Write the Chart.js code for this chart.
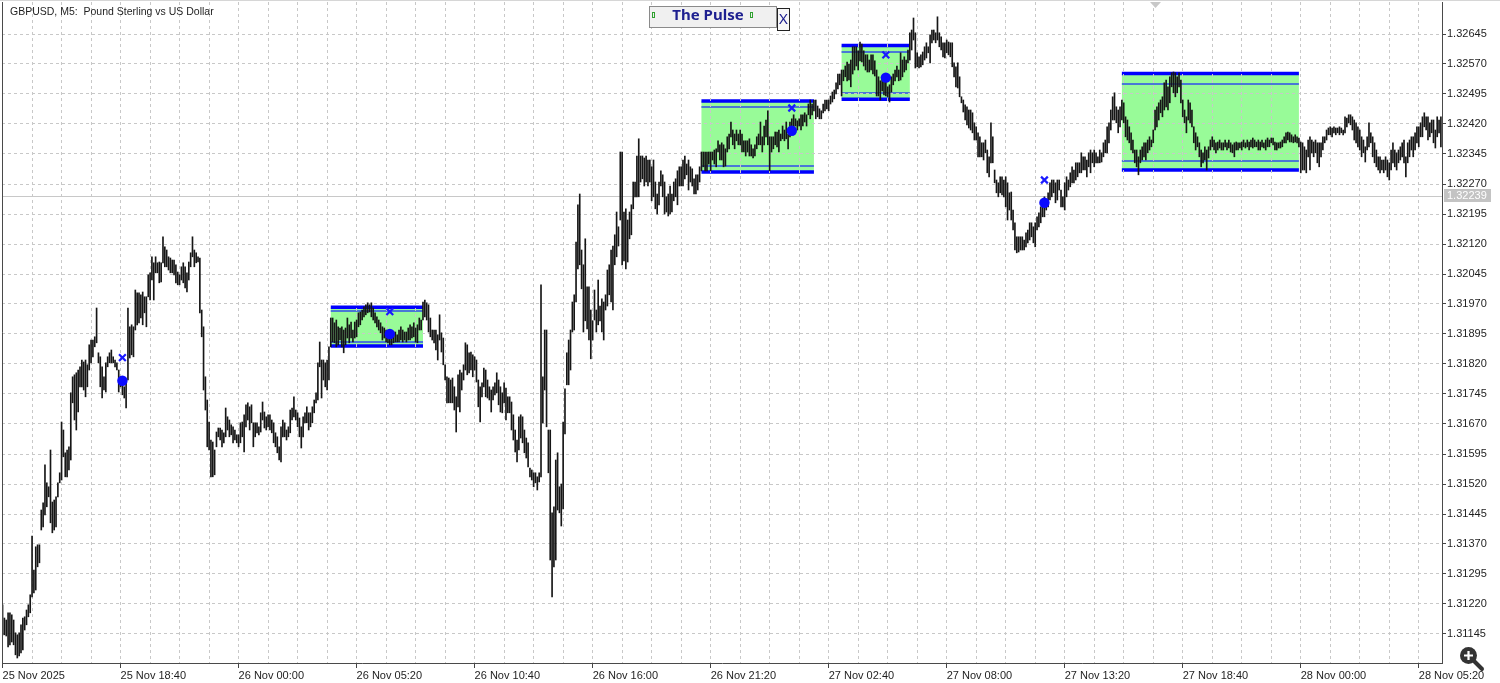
<!DOCTYPE html>
<html>
<head>
<meta charset="utf-8">
<script src="https://cdn.jsdelivr.net/npm/chart.js@4.4.1/dist/chart.umd.min.js"></script>
<style>
html,body{margin:0;padding:0;background:#fff;overflow:hidden}
#wrap{position:relative;width:1500px;height:683px}
</style>
</head>
<body>
<div id="wrap"><canvas id="c" width="1500" height="683"></canvas></div>
<script>
// ---------- DATA ----------
// GBPUSD M5 bars. Prices stored in points (0.00001) above 1.31000
const PRICE_BASE = 1.31;
const POINT = 0.00001;

const barHighPts = [
218,185,180,198,198,193,180,148,143,148,
168,185,188,205,218,243,390,305,363,368,
368,455,473,568,523,513,605,475,480,488,
523,548,675,655,598,605,613,748,788,793,
798,805,813,830,825,830,818,868,880,880,
888,960,848,838,813,788,823,838,848,855,
838,830,823,805,788,780,763,773,960,913,
918,913,1005,998,998,993,1000,988,988,1043,
1048,1088,1073,1088,1073,1075,1073,1138,1113,1105,
1088,1085,1080,1080,1068,1050,1043,1063,1073,1063,
1048,1075,1098,1138,1105,1098,1088,1085,955,913,
788,730,675,630,625,605,650,660,660,655,
648,710,688,680,668,663,655,643,643,673,
675,693,718,723,713,718,673,673,673,663,
698,725,700,688,693,693,680,673,648,638,
613,663,680,673,655,663,705,710,738,705,
698,685,663,688,698,713,698,698,713,730,
748,823,875,830,830,823,830,863,935,935,
923,930,913,910,913,905,910,935,918,925,
905,925,930,948,950,955,963,968,973,968,
973,960,948,938,930,923,913,910,905,898,
898,888,900,900,893,905,913,905,900,900,
910,918,913,923,910,918,935,930,975,980,
973,968,935,905,905,905,893,943,898,885,
818,788,785,780,785,763,738,793,805,798,
818,873,868,848,850,843,838,830,780,763,
773,810,805,780,763,755,763,773,798,780,
763,748,773,760,738,738,725,693,655,630,
688,693,688,655,635,623,560,555,548,548,
538,548,1018,788,905,905,655,655,448,463,
580,598,513,520,675,758,848,880,905,975,
993,1125,1218,1245,1105,1068,1133,1013,1013,955,
928,1005,955,1030,965,983,975,993,1055,1068,
1105,1115,1143,1200,1163,1350,1350,1200,1208,1180,
1200,1218,1275,1275,1340,1383,1340,1340,1335,1340,
1330,1330,1313,1330,1275,1245,1275,1303,1293,1275,
1238,1245,1265,1245,1275,1283,1303,1313,1313,1330,
1340,1320,1330,1313,1308,1283,1293,1293,1313,1350,
1350,1350,1350,1350,1350,1350,1355,1358,1378,1368,
1373,1368,1358,1388,1395,1425,1405,1395,1405,1395,
1405,1395,1378,1378,1378,1383,1368,1358,1368,1388,
1395,1425,1388,1415,1430,1453,1388,1388,1388,1400,
1400,1405,1395,1415,1405,1425,1395,1425,1433,1443,
1433,1428,1433,1443,1443,1448,1443,1470,1480,1470,
1480,1480,1465,1458,1453,1470,1480,1480,1480,1490,
1500,1505,1523,1545,1545,1555,1555,1565,1575,1570,
1580,1613,1613,1613,1603,1625,1620,1603,1593,1593,
1580,1593,1593,1578,1555,1538,1528,1538,1530,1528,
1513,1518,1538,1545,1555,1565,1555,1598,1580,1588,
1580,1605,1648,1655,1685,1648,1598,1588,1593,1600,
1613,1623,1613,1643,1655,1655,1648,1688,1648,1638,
1623,1623,1630,1625,1623,1623,1573,1563,1573,1538,
1488,1480,1468,1463,1455,1455,1448,1423,1413,1398,
1388,1373,1373,1380,1355,1338,1423,1388,1305,1280,
1273,1288,1288,1280,1288,1273,1248,1250,1205,1173,
1138,1138,1138,1138,1130,1148,1155,1173,1173,1163,
1173,1188,1198,1213,1223,1238,1223,1248,1273,1280,
1280,1273,1280,1280,1255,1238,1273,1288,1280,1298,
1313,1305,1323,1323,1323,1348,1338,1338,1330,1348,
1355,1348,1355,1348,1338,1355,1348,1373,1380,1413,
1423,1455,1488,1498,1463,1455,1463,1480,1473,1438,
1430,1413,1398,1380,1355,1355,1338,1355,1363,1373,
1373,1380,1388,1380,1405,1455,1463,1473,1480,1488,
1523,1530,1513,1538,1548,1550,1548,1538,1548,1530,
1480,1455,1438,1480,1473,1455,1413,1398,1388,1373,
1355,1348,1363,1355,1363,1380,1388,1380,1373,1375,
1380,1373,1373,1380,1373,1380,1373,1368,1373,1375,
1373,1373,1375,1380,1373,1380,1375,1380,1385,1380,
1375,1380,1375,1380,1373,1380,1385,1380,1385,1385,
1375,1373,1373,1375,1380,1388,1398,1400,1398,1393,
1388,1393,1388,1385,1375,1373,1363,1355,1380,1388,
1380,1375,1380,1373,1373,1373,1388,1388,1405,1410,
1413,1410,1413,1410,1410,1413,1410,1405,1438,1435,
1443,1443,1438,1430,1423,1413,1405,1388,1380,1363,
1388,1423,1398,1388,1373,1355,1338,1338,1330,1330,
1338,1330,1323,1355,1373,1355,1348,1355,1363,1373,
1380,1338,1373,1380,1388,1388,1398,1413,1413,1423,
1438,1448,1438,1438,1423,1430,1430,1405,1438,1430,
1438
];

const barLowPts = [
143,143,140,113,118,125,118,93,85,90,
98,105,155,168,188,198,238,248,255,313,
323,405,413,443,463,488,423,398,405,413,
488,523,530,588,538,538,555,580,723,680,
655,700,763,763,755,738,763,805,823,838,
863,873,823,763,735,755,750,813,823,823,
823,813,805,750,763,743,735,710,780,835,
843,838,905,918,923,935,918,948,913,988,
980,1030,980,1048,1048,1023,1025,1073,1063,1063,
1055,1048,1048,1043,1023,1018,1018,1030,1023,1010,
1000,1030,1063,1088,1063,1073,1075,948,888,755,
705,613,605,538,538,543,613,638,630,613,
623,638,655,638,643,623,630,623,613,623,
638,600,663,680,655,673,613,638,648,643,
650,680,660,655,663,655,648,623,613,598,
580,575,638,638,630,638,648,680,688,680,
663,638,610,638,673,673,655,663,673,698,
723,730,813,735,780,763,755,780,863,875,
873,863,868,880,863,848,868,885,873,885,
875,885,888,913,918,930,938,943,948,950,
938,930,923,913,905,898,880,885,875,873,
868,868,873,875,875,875,880,875,880,875,
880,880,885,888,875,873,905,905,930,938,
930,900,888,880,873,855,830,880,850,818,
780,723,723,723,723,705,650,713,700,755,
780,805,793,798,805,788,805,775,713,675,
738,763,738,735,730,700,730,743,748,718,
700,698,723,680,698,698,655,630,600,575,
605,635,623,598,585,563,538,530,513,523,
505,525,538,673,755,663,548,330,238,313,
330,455,448,415,458,645,768,768,805,900,
905,975,1058,1068,1008,900,928,908,880,833,
880,930,900,918,928,900,880,955,965,993,
975,955,1068,1088,1115,1180,1068,1078,1058,1075,
1133,1143,1208,1238,1238,1238,1275,1283,1265,1275,
1265,1275,1228,1238,1208,1195,1218,1265,1238,1195,
1200,1190,1195,1200,1228,1238,1218,1265,1265,1265,
1283,1293,1255,1275,1265,1245,1245,1255,1275,1303,
1313,1303,1303,1320,1303,1330,1320,1313,1350,1330,
1330,1313,1315,1350,1358,1388,1368,1358,1378,1368,
1368,1350,1350,1340,1350,1340,1340,1335,1340,1358,
1368,1368,1350,1368,1388,1368,1303,1350,1358,1368,
1363,1350,1378,1383,1378,1383,1358,1388,1395,1405,
1415,1405,1415,1405,1415,1425,1415,1443,1433,1443,
1453,1433,1438,1433,1433,1448,1453,1458,1453,1470,
1475,1483,1495,1508,1518,1490,1528,1538,1528,1530,
1513,1545,1555,1565,1555,1578,1575,1565,1555,1550,
1550,1555,1545,1540,1490,1490,1480,1503,1493,1490,
1488,1475,1500,1518,1528,1538,1528,1530,1538,1550,
1555,1573,1580,1605,1630,1560,1563,1560,1563,1568,
1580,1585,1598,1573,1623,1630,1623,1630,1613,1605,
1588,1585,1598,1593,1588,1563,1538,1513,1510,1488,
1473,1450,1430,1418,1410,1405,1398,1380,1380,1338,
1338,1338,1330,1348,1298,1288,1323,1323,1273,1248,
1238,1248,1243,1238,1213,1180,1205,1180,1155,1105,
1098,1100,1105,1105,1105,1113,1123,1130,1138,1123,
1113,1155,1163,1173,1188,1188,1205,1213,1230,1238,
1248,1223,1230,1255,1213,1213,1205,1238,1255,1263,
1273,1273,1280,1288,1298,1298,1305,1305,1288,1313,
1298,1323,1313,1323,1323,1323,1325,1338,1348,1348,
1373,1405,1430,1430,1423,1398,1413,1430,1423,1388,
1380,1373,1355,1348,1323,1313,1293,1323,1330,1338,
1330,1348,1355,1363,1373,1405,1413,1430,1448,1438,
1455,1463,1455,1473,1513,1498,1488,1498,1513,1473,
1438,1423,1398,1430,1423,1413,1373,1355,1363,1338,
1313,1323,1330,1305,1335,1355,1363,1355,1348,1355,
1360,1355,1355,1363,1355,1360,1350,1348,1338,1355,
1355,1360,1355,1363,1360,1363,1355,1363,1360,1363,
1363,1355,1355,1363,1360,1355,1363,1363,1373,1368,
1355,1355,1360,1360,1363,1373,1373,1380,1375,1375,
1373,1375,1373,1363,1298,1305,1305,1298,1338,1305,
1348,1338,1348,1323,1313,1338,1355,1373,1380,1393,
1393,1388,1398,1393,1398,1393,1398,1393,1398,1413,
1423,1418,1405,1380,1373,1363,1355,1338,1348,1325,
1355,1363,1373,1338,1323,1313,1305,1298,1305,1298,
1305,1288,1280,1305,1323,1313,1305,1323,1330,1338,
1323,1288,1323,1338,1355,1338,1355,1373,1363,1388,
1388,1413,1405,1380,1388,1398,1373,1360,1388,1398,
1363
];

// Time axis labels (one every 64 bars)
const timeLabels = ['25 Nov 2025','25 Nov 18:40','26 Nov 00:00','26 Nov 05:20','26 Nov 10:40','26 Nov 16:00',
  '26 Nov 21:20','27 Nov 02:40','27 Nov 08:00','27 Nov 13:20','27 Nov 18:40','28 Nov 00:00','28 Nov 05:20'];
const BARS_PER_LABEL = 64;
const BARS_PER_GRID = 16;

// Price axis tick labels
const priceTickLabels = ['1.31145','1.31220','1.31295','1.31370','1.31445','1.31520','1.31595','1.31670',
  '1.31745','1.31820','1.31895','1.31970','1.32045','1.32120','1.32195','1.32270','1.32345','1.32420',
  '1.32495','1.32570','1.32645'];
const PRICE_MIN = 1.310725, PRICE_MAX = 1.32725;
const currentPrice = 1.32239;

// Signal markers (bar index + price)
const dotBars = [65, 210, 428, 479, 565];
const dotPrices = [1.31778, 1.31895, 1.32403, 1.32536, 1.32223];
const crossBars = [65, 210, 428, 479, 565];
const crossPrices = [1.31836, 1.31951, 1.32460, 1.32593, 1.32280];

// Range boxes
const boxStartBar = [178, 379, 455, 607];
const boxEndBar = [228, 440, 492, 703];
const boxTop = [1.31962, 1.324775, 1.32616, 1.32546];
const boxInnerTop = [1.31953, 1.324625, 1.32601, 1.32520];
const boxInnerBottom = [1.31876, 1.32315, 1.32497, 1.32328];
const boxBottom = [1.31865, 1.32300, 1.32482, 1.32305];

// ---------- BUILD ----------
const toPrice = p => PRICE_BASE + p * POINT;
const barData = barHighPts.map((h, i) => ({ x: i, y: [toPrice(barLowPts[i]), toPrice(h)] }));
const dotData = dotBars.map((b, k) => ({ x: b, y: dotPrices[k] }));
const crossData = crossBars.map((b, k) => ({ x: b, y: crossPrices[k] }));
const gridTicks = [];
for (let v = 0; v <= (timeLabels.length - 1) * BARS_PER_LABEL; v += BARS_PER_GRID) gridTicks.push(v);
const GRIDS_PER_LABEL = BARS_PER_LABEL / BARS_PER_GRID;

const FONT = 'Liberation Sans';

const backPlugin = {
  id: 'back',
  beforeDraw(chart) {
    const { ctx, chartArea: a, scales: { x, y } } = chart;
    ctx.save();
    ctx.fillStyle = '#ffffff';
    ctx.fillRect(0, 0, chart.width, chart.height);
    ctx.beginPath();
    ctx.rect(a.left, a.top, a.right - a.left, a.bottom - a.top);
    ctx.clip();
    for (let k = 0; k < boxStartBar.length; k++) {
      const x1 = x.getPixelForValue(boxStartBar[k]);
      const x2 = x.getPixelForValue(boxEndBar[k]);
      const yT = y.getPixelForValue(boxTop[k]);
      const yB = y.getPixelForValue(boxBottom[k]);
      ctx.fillStyle = '#98fb98';
      ctx.fillRect(x1, yT, x2 - x1, yB - yT);
      ctx.strokeStyle = '#4a78d6';
      ctx.lineWidth = 2;
      [boxInnerTop[k], boxInnerBottom[k]].forEach(p => {
        const yy = Math.round(y.getPixelForValue(p));
        ctx.beginPath(); ctx.moveTo(x1, yy); ctx.lineTo(x2, yy); ctx.stroke();
      });
      ctx.strokeStyle = '#0000ff';
      ctx.lineWidth = 3.5;
      [yT, yB].forEach(yy => {
        ctx.beginPath(); ctx.moveTo(x1, yy); ctx.lineTo(x2, yy); ctx.stroke();
      });
    }
    ctx.restore();
  },
  beforeDatasetsDraw(chart) {
    const { ctx, chartArea: a, scales: { y } } = chart;
    const yy = Math.round(y.getPixelForValue(currentPrice)) + 0.5;
    ctx.save();
    ctx.strokeStyle = '#c8c8c8';
    ctx.lineWidth = 1;
    ctx.beginPath(); ctx.moveTo(a.left, yy); ctx.lineTo(a.right, yy); ctx.stroke();
    ctx.restore();
  },
  afterDraw(chart) {
    const { ctx, chartArea: a, scales: { y } } = chart;
    ctx.save();
    // frame
    ctx.strokeStyle = '#d6d6d6'; ctx.lineWidth = 1;
    ctx.beginPath(); ctx.moveTo(0, 0.5); ctx.lineTo(1500, 0.5); ctx.stroke();
    ctx.strokeStyle = '#4a4a4a';
    ctx.beginPath(); ctx.moveTo(2.5, a.top); ctx.lineTo(2.5, a.bottom); ctx.stroke();
    // shift marker
    ctx.fillStyle = '#c8c8c8';
    ctx.beginPath(); ctx.moveTo(1150, 2); ctx.lineTo(1161, 2); ctx.lineTo(1155.5, 8); ctx.closePath(); ctx.fill();
    // title
    ctx.fillStyle = '#1e1e1e';
    ctx.font = '10.5px "' + FONT + '"';
    ctx.textAlign = 'left'; ctx.textBaseline = 'middle';
    ctx.fillText('GBPUSD, M5:  Pound Sterling vs US Dollar', 10, 12.5);
    // current price label
    const yy = Math.round(y.getPixelForValue(currentPrice));
    ctx.fillStyle = '#c3c3c3';
    ctx.fillRect(1444, yy - 7, 47, 13);
    ctx.fillStyle = '#ffffff';
    ctx.font = '11px "' + FONT + '"';
    ctx.fillText(currentPrice.toFixed(5), 1447, yy);
    // The Pulse panel
    ctx.fillStyle = '#f0f0f0';
    ctx.fillRect(649.5, 6.5, 127, 21);
    ctx.strokeStyle = '#8a8a8a'; ctx.lineWidth = 1;
    ctx.strokeRect(649.5, 6.5, 127, 21);
    ctx.strokeStyle = '#2ea02e';
    ctx.strokeRect(652.5, 12.5, 2, 5);
    ctx.strokeRect(750.5, 12.5, 2, 5);
    ctx.fillStyle = '#1e2090';
    ctx.font = 'bold 15px "Noto Sans"';
    ctx.textAlign = 'center';
    ctx.fillText('The Pulse', 708, 15.5);
    ctx.fillStyle = '#f7f7f7';
    ctx.fillRect(777.5, 8.5, 12, 22);
    ctx.strokeStyle = '#222'; ctx.strokeRect(777.5, 8.5, 12, 22);
    ctx.fillStyle = '#1e2090';
    ctx.font = '15px "Noto Sans"';
    ctx.fillText('X', 783.5, 20);
    // zoom icon
    ctx.fillStyle = '#333';
    ctx.beginPath(); ctx.arc(1468.5, 655.5, 8.5, 0, Math.PI * 2); ctx.fill();
    ctx.strokeStyle = '#333'; ctx.lineWidth = 4; ctx.lineCap = 'round';
    ctx.beginPath(); ctx.moveTo(1474, 661); ctx.lineTo(1482, 669); ctx.stroke();
    ctx.strokeStyle = '#fff'; ctx.lineWidth = 2.2; ctx.lineCap = 'butt';
    ctx.beginPath(); ctx.moveTo(1464, 655.5); ctx.lineTo(1473, 655.5); ctx.moveTo(1468.5, 651); ctx.lineTo(1468.5, 660); ctx.stroke();
    ctx.restore();
  }
};

new Chart(document.getElementById('c'), {
  type: 'bar',
  data: {
    datasets: [
      { type: 'scatter', data: dotData, pointStyle: 'circle', pointRadius: 5.2, backgroundColor: '#0a0aff', borderWidth: 0, order: 0 },
      { type: 'scatter', data: crossData, pointStyle: 'crossRot', pointRadius: 4.8, borderColor: '#1a1aff', borderWidth: 2.2, order: 0 },
      { type: 'bar', data: barData, backgroundColor: '#161616', barThickness: 1, borderWidth: 0, grouped: false, order: 1 }
    ]
  },
  options: {
    responsive: false,
    animation: false,
    devicePixelRatio: 1,
    layout: { autoPadding: false, padding: { left: 2, top: 2, right: 0, bottom: 0 } },
    plugins: { legend: { display: false }, tooltip: { enabled: false } },
    scales: {
      x: {
        type: 'linear', min: -0.3, max: 780.6, bounds: 'data', offset: false,
        grid: {
          offset: false, color: '#c8c8c8', lineWidth: 1, drawTicks: true, tickLength: 5, tickWidth: 1,
          tickColor: c => (c.index % GRIDS_PER_LABEL === 0 ? '#444' : 'rgba(0,0,0,0)')
        },
        border: { display: true, color: '#4a4a4a', width: 1, dash: [3, 3] },
        ticks: {
          autoSkip: false, maxRotation: 0, minRotation: 0, align: 'start', padding: 1,
          color: '#1e1e1e', font: { family: FONT, size: 11 },
          callback: (v, i) => (i % GRIDS_PER_LABEL === 0 ? timeLabels[i / GRIDS_PER_LABEL] : '')
        },
        afterBuildTicks: s => { s.ticks = gridTicks.map(v => ({ value: v })); },
        afterFit: s => { s.height = 20; s.paddingLeft = 0; s.paddingRight = 0; }
      },
      y: {
        type: 'linear', position: 'right', min: PRICE_MIN, max: PRICE_MAX, bounds: 'data',
        grid: { color: '#c8c8c8', lineWidth: 1, drawTicks: true, tickLength: 4, tickColor: '#444', tickWidth: 1 },
        border: { display: true, color: '#4a4a4a', width: 1, dash: [3, 3] },
        ticks: {
          padding: 1, color: '#1e1e1e', font: { family: FONT, size: 11 },
          callback: (v, i) => priceTickLabels[i]
        },
        afterBuildTicks: s => { s.ticks = priceTickLabels.map(t => ({ value: parseFloat(t) })); },
        afterFit: s => { s.width = 58; s.paddingTop = 0; s.paddingBottom = 0; }
      }
    }
  },
  plugins: [backPlugin]
});
</script>
</body>
</html>
